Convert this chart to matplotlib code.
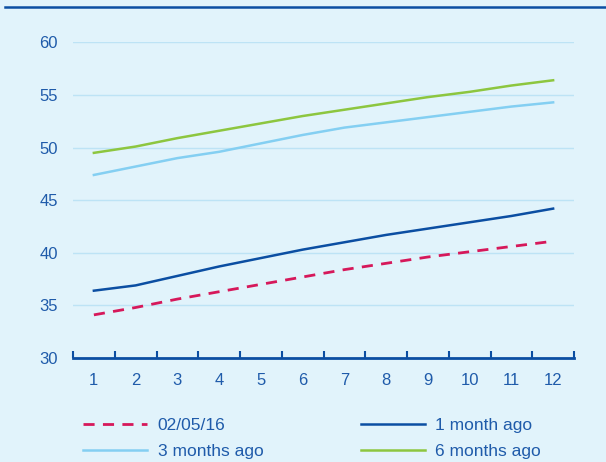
import matplotlib
matplotlib.use("Agg")
import matplotlib.pyplot as plt
from matplotlib.lines import Line2D
import numpy as np

plt.rcParams['font.family'] = ['Liberation Sans', 'DejaVu Sans']

months = list(range(1, 13))
latest = [34.1, 34.8, 35.6, 36.3, 37.0, 37.7, 38.4, 39.0, 39.6, 40.1, 40.6, 41.1]
one_month = [36.4, 36.9, 37.8, 38.7, 39.5, 40.3, 41.0, 41.7, 42.3, 42.9, 43.5, 44.2]
three_months = [47.4, 48.2, 49.0, 49.6, 50.4, 51.2, 51.9, 52.4, 52.9, 53.4, 53.9, 54.3]
six_months = [49.5, 50.1, 50.9, 51.6, 52.3, 53.0, 53.6, 54.2, 54.8, 55.3, 55.9, 56.4]
labels = ['02/05/16', '1 month ago', '3 months ago', '6 months ago']

bg = '#E1F3FB'
txt = '#1F5BAA'
navy = '#0B4EA2'
pink = '#D6185A'
light = '#84CFF2'
green = '#8DC63F'

fig = plt.figure(figsize=(6.06, 4.62), dpi=100, facecolor=bg)
W, H = 606, 462
ax = fig.add_axes([73 / W, 1 - 358 / H, (574 - 73) / W, (358 - 42.4) / H])
ax.set_facecolor(bg)

fig.add_artist(Line2D([5 / W, 1.0], [1 - 7 / H, 1 - 7 / H], color=navy, lw=1.8,
                      transform=fig.transFigure))

l1, = ax.plot(months, latest, color=pink, lw=2, dashes=(4, 3))
l2, = ax.plot(months, one_month, color=navy, lw=1.8)
l3, = ax.plot(months, three_months, color=light, lw=1.8)
l4, = ax.plot(months, six_months, color=green, lw=1.8)

ax.set_xlim(0.5, 12.5)
ax.set_ylim(30, 60)
ax.set_yticks(np.arange(30, 61, 5))
ax.set_xticks(months)
ax.set_xticks(np.arange(0.5, 12.6, 1), minor=True)
ax.yaxis.grid(True, color='#BDE3F5', lw=1)
ax.set_axisbelow(True)

for s in ['top', 'right', 'left']:
    ax.spines[s].set_visible(False)
ax.spines['bottom'].set_color(navy)
ax.spines['bottom'].set_linewidth(2)

fs = 12
ax.tick_params(axis='y', length=0, pad=11, labelsize=fs, labelcolor=txt)
ax.tick_params(axis='x', which='major', length=0, pad=10.5, labelsize=fs, labelcolor=txt)
ax.tick_params(axis='x', which='minor', direction='in', length=5, width=1.5, color=navy)

# column-major order so rows read: 02/05/16, 1 month ago / 3 months ago, 6 months ago
fig.legend([l1, l3, l2, l4], [labels[0], labels[2], labels[1], labels[3]],
           loc='upper left', bbox_to_anchor=(83 / W, 1 - 418 / H),
           ncol=2, frameon=False, fontsize=12.5, labelcolor=txt, handlelength=3.7,
           borderpad=0, borderaxespad=0, columnspacing=5.6, labelspacing=0.62,
           handletextpad=0.6)

fig.savefig('out.png', dpi=100, facecolor=bg)
